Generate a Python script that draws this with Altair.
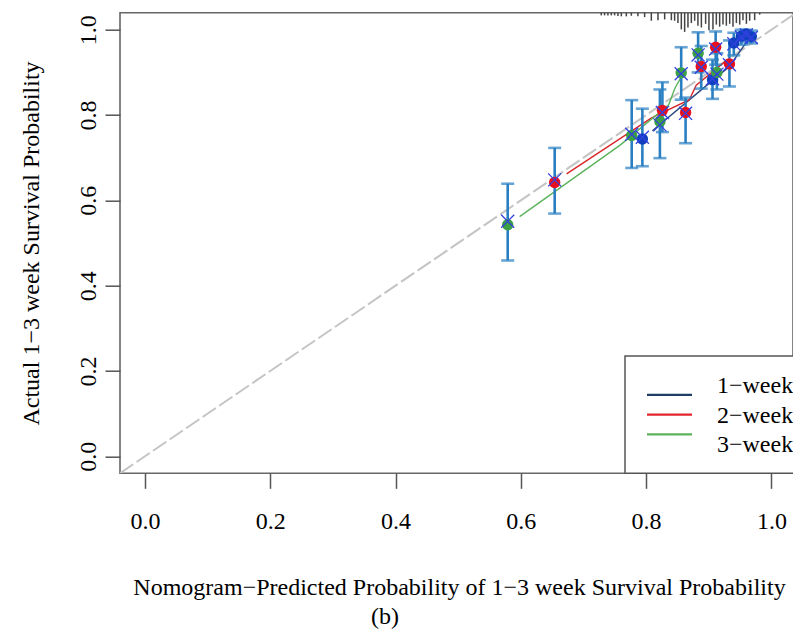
import altair as alt
import pandas as pd

# ---------------- data ----------------
series = ["1-week", "2-week", "3-week"]
legend_labels = ["1−week", "2−week", "3−week"]

# 1-week
w1_x = [0.794, 0.906, 0.940, 0.952, 0.960, 0.968]
w1_y = [0.744, 0.883, 0.969, 0.985, 0.990, 0.984]
w1_lo = [0.680, 0.838, 0.940, 0.965, 0.972, 0.968]
w1_hi = [0.815, 0.930, 0.993, 1.000, 1.000, 0.998]
w1_c = [0.748, 0.885, 0.967, 0.983, 0.988, 0.982]

# 2-week
w2_x = [0.654, 0.826, 0.863, 0.888, 0.911, 0.933]
w2_y = [0.642, 0.811, 0.806, 0.914, 0.959, 0.920]
w2_lo = [0.569, 0.760, 0.734, 0.862, 0.918, 0.867]
w2_hi = [0.723, 0.877, 0.841, 0.962, 0.996, 0.975]
w2_c = [0.648, 0.806, 0.804, 0.912, 0.955, 0.918]

# 3-week
w3_x = [0.579, 0.777, 0.822, 0.856, 0.883, 0.913]
w3_y = [0.543, 0.752, 0.785, 0.899, 0.945, 0.900]
w3_lo = [0.459, 0.676, 0.699, 0.836, 0.900, 0.860]
w3_hi = [0.639, 0.835, 0.860, 0.959, 0.994, 0.945]
w3_c = [0.551, 0.755, 0.777, 0.897, 0.941, 0.896]

# calibration curves
l1_x = [0.810, 0.888, 0.933, 0.962]
l1_y = [0.763, 0.859, 0.914, 0.975]
l2_x = [0.673, 0.808, 0.869, 0.880, 0.930]
l2_y = [0.662, 0.793, 0.836, 0.870, 0.930]
l3_x = [0.598, 0.759, 0.836, 0.846, 0.860]
l3_y = [0.562, 0.730, 0.824, 0.863, 0.900]

# rug of predicted probabilities (relative frequency)
rug_x = [0.7284, 0.7337, 0.7390, 0.7444, 0.7497, 0.7550, 0.7604, 0.7684, 0.7764,
         0.7869, 0.7976, 0.8083, 0.8189, 0.8296, 0.8403, 0.8455, 0.8508, 0.8562,
         0.8615, 0.8668, 0.8722, 0.8775, 0.8827, 0.8882, 0.8950, 0.9003, 0.9067,
         0.9121, 0.9174, 0.9227, 0.9281, 0.9334, 0.9387, 0.9441, 0.9494, 0.9546,
         0.9601, 0.9653, 0.9733, 0.9813]
rug_f = [0.14, 0.14, 0.14, 0.14, 0.14, 0.17, 0.19, 0.19, 0.16,
         0.19, 0.23, 0.42, 0.39, 0.35, 0.39, 0.42, 0.54, 0.87,
         1.00, 0.77, 0.54, 0.42, 0.68, 0.77, 0.58, 0.92, 0.87,
         0.62, 0.73, 0.62, 0.68, 0.58, 0.73, 0.54, 0.62, 0.39,
         0.58, 0.42, 0.39, 0.10]

ticks = [0.0, 0.2, 0.4, 0.6, 0.8, 1.0]

# ---------------- tables ----------------
def pts(name, xs, ys, lo, hi, c):
    return pd.DataFrame({"series": name, "x": xs, "y": ys, "lo": lo, "hi": hi, "yc": c})

points = pd.concat([
    pts(series[0], w1_x, w1_y, w1_lo, w1_hi, w1_c),
    pts(series[1], w2_x, w2_y, w2_lo, w2_hi, w2_c),
    pts(series[2], w3_x, w3_y, w3_lo, w3_hi, w3_c),
], ignore_index=True)

curves = pd.concat([
    pd.DataFrame({"series": series[0], "x": l1_x, "y": l1_y}),
    pd.DataFrame({"series": series[1], "x": l2_x, "y": l2_y}),
    pd.DataFrame({"series": series[2], "x": l3_x, "y": l3_y}),
], ignore_index=True)

diag = pd.DataFrame({"x": [-0.04, 1.04], "y": [-0.04, 1.04]})
rug = pd.DataFrame({"x": rug_x, "f": rug_f})
legend_df = pd.DataFrame({"series": series, "label": legend_labels})

# ---------------- styles ----------------
SERIF = "Liberation Serif"
FS = 24
W, H = 673, 460.6
xs = alt.Scale(domain=[-0.04, 1.0345], nice=False, zero=False)
ys = alt.Scale(domain=[-0.04, 1.04], nice=False, zero=False)

x_axis = alt.Axis(values=ticks, format=".1f", grid=False, domain=False,
                  tickSize=15, tickWidth=1.5, tickColor="#555555",
                  labelFont=SERIF, labelFontSize=FS, labelColor="black",
                  labelPadding=21, labelFlush=False,
                  title="Nomogram−Predicted Probability of 1−3 week Survival Probability",
                  titleFont=SERIF, titleFontSize=FS, titleFontWeight="normal",
                  titleColor="black", titleX=339, titleY=121, titleAlign="center",
                  titleBaseline="alphabetic")
y_axis = alt.Axis(values=ticks, format=".1f", grid=False, domain=False,
                  tickSize=15, tickWidth=1.5, tickColor="#555555",
                  labelFont=SERIF, labelFontSize=FS, labelColor="black",
                  labelAngle=-90, labelAlign="center", labelBaseline="alphabetic",
                  labelPadding=10, labelFlush=False,
                  title="Actual  1−3 week Survival Probability",
                  titleFont=SERIF, titleFontSize=FS, titleFontWeight="normal",
                  titleColor="black", titleAngle=-90, titleX=-82, titleY=H / 2,
                  titleAlign="center", titleBaseline="alphabetic")

pt_colors = alt.Scale(domain=series, range=["#1040c0", "#e8101e", "#3aa043"])
ln_colors = alt.Scale(domain=series, range=["#2b4a7e", "#d8262a", "#5cb35c"])
lg_colors = alt.Scale(domain=series, range=["#1f3c66", "#e3262d", "#5cb35c"])
EB = "#2a7fc2"

def X(f):
    return alt.X(f, type="quantitative", scale=xs, axis=x_axis)

def Y(f):
    return alt.Y(f, type="quantitative", scale=ys, axis=None)

# ---------------- layers ----------------
diag_l = alt.Chart(diag).mark_line(color="#c4c4c4", strokeWidth=2, strokeDash=[16, 4], clip=True).encode(
    x=X("x"),
    y=alt.Y("y:Q", scale=ys, axis=y_axis),
)

curve_l = alt.Chart(curves).mark_line(strokeWidth=1.4, clip=True).encode(
    x=X("x"), y=Y("y"),
    color=alt.Color("series:N", scale=ln_colors, legend=None),
    detail="series:N",
)

rug_l = alt.Chart(rug).transform_calculate(
    top="1.04", bot="1.04 - datum.f * 0.045"
).mark_rule(color="#444444", strokeWidth=1.5).encode(
    x=X("x"), y=Y("top:Q"), y2="bot:Q"
)

eb_l = alt.Chart(points).mark_rule(color=EB, strokeWidth=2.6).encode(
    x=X("x"), y=Y("lo"), y2="hi:Q"
)
cap_lo = alt.Chart(points).mark_tick(color=EB, thickness=2.6, size=13, orient="horizontal").encode(
    x=X("x"), y=Y("lo")
)
cap_hi = alt.Chart(points).mark_tick(color=EB, thickness=2.6, size=13, orient="horizontal").encode(
    x=X("x"), y=Y("hi")
)
circ_l = alt.Chart(points).mark_point(filled=True, shape="circle", size=130, opacity=1).encode(
    x=X("x"), y=Y("y"),
    color=alt.Color("series:N", scale=pt_colors, legend=None),
)
cross_l = alt.Chart(points).mark_point(shape="M-1,-1L1,1M-1,1L1,-1", size=170, filled=False,
                                       strokeWidth=1.3, color="#3340e0", opacity=1).encode(
    x=X("x"), y=Y("yc")
)

box_l = alt.Chart(pd.DataFrame({"k": [0]})).mark_rect(
    fill="white", stroke="#555555", strokeWidth=1.5
).encode(x=alt.value(505), x2=alt.value(720), y=alt.value(343.3), y2=alt.value(H))

lg_y = alt.Y("series:N", scale=alt.Scale(domain=series, range=[372.3, 431.6], padding=0), axis=None)
lg_rule = alt.Chart(legend_df).mark_rule(strokeWidth=2.2).encode(
    x=alt.value(527), x2=alt.value(572), y=lg_y,
    color=alt.Color("series:N", scale=lg_colors, legend=None),
)
lg_text = alt.Chart(legend_df).mark_text(align="left", baseline="middle", font=SERIF,
                                          fontSize=FS, color="black", dy=1).encode(
    x=alt.value(597), y=lg_y, text="label:N"
)

cap_l = alt.Chart(pd.DataFrame({"t": ["(b)"]})).mark_text(
    align="center", baseline="alphabetic", font=SERIF, fontSize=FS, color="black"
).encode(x=alt.value(265), y=alt.value(611), text="t:N")

chart = alt.layer(
    diag_l, curve_l, rug_l, eb_l, cap_lo, cap_hi, circ_l, cross_l,
    box_l, lg_rule, lg_text, cap_l
).resolve_scale(
    y="independent", color="independent"
).properties(
    width=W, height=H,
    autosize=alt.AutoSizeParams(type="none"),
    padding={"left": 120, "top": 12.7, "right": 0, "bottom": 155.7},
).configure_view(
    stroke="#666666", strokeWidth=1.6
)

chart.save("out.html", embed_options={"renderer": "svg", "actions": False})
